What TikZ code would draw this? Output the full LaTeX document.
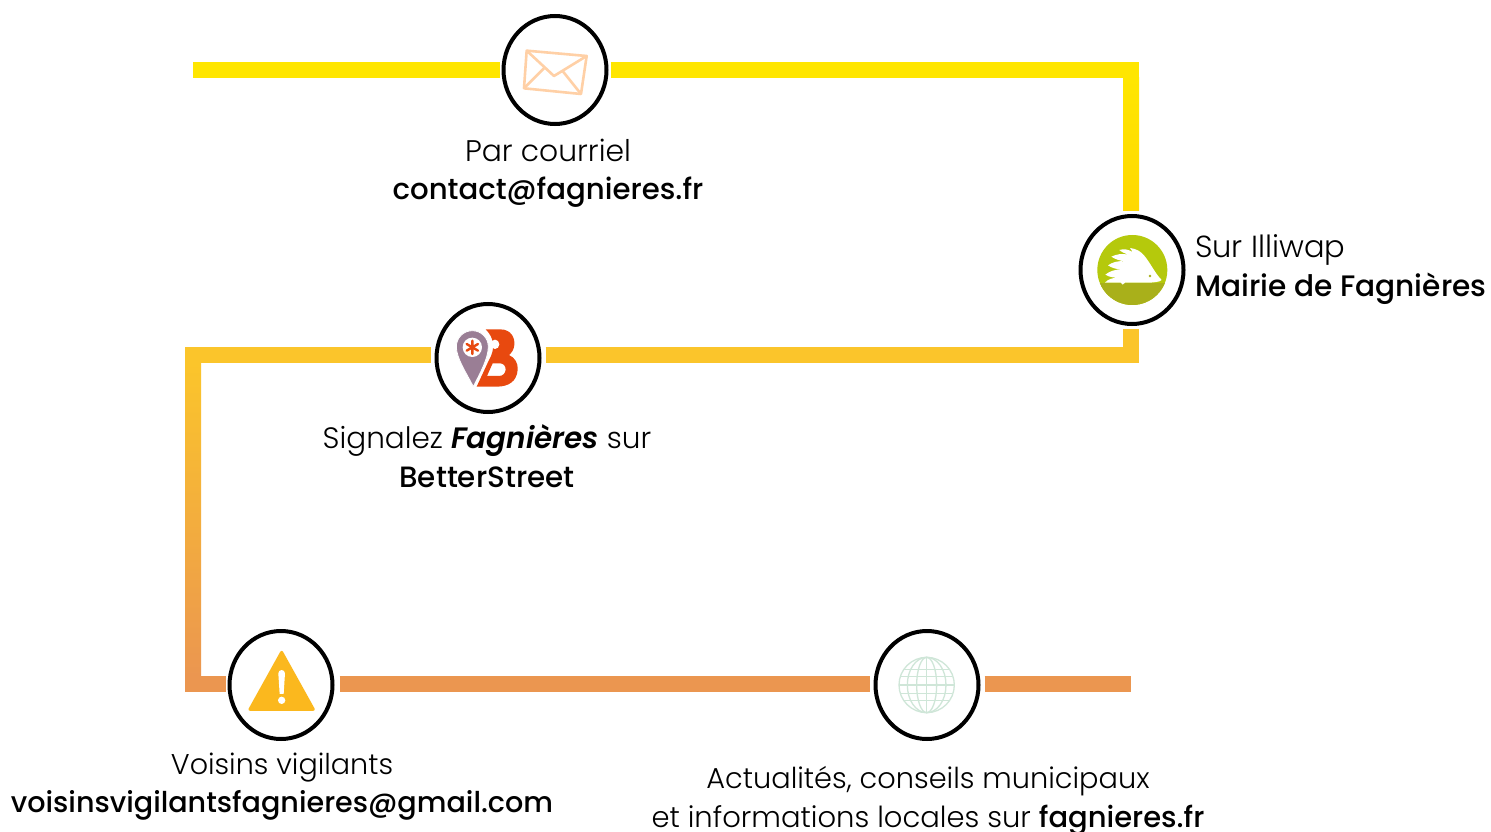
\documentclass[tikz,border=0pt]{standalone}
\usepackage{fontspec}
\setmainfont{Poppins Light}
\newfontfamily\regf{Poppins Medium}
\newfontfamily\boldf{Poppins SemiBold}
\usetikzlibrary{shapes.geometric}
\definecolor{yelA}{HTML}{FFE600}
\definecolor{yelB}{HTML}{FFD900}
\definecolor{ambA}{HTML}{FBC52B}
\definecolor{oraA}{HTML}{EB9650}
\definecolor{envC}{HTML}{FFD0A6}
\definecolor{hogA}{HTML}{B5C90C}
\definecolor{hogB}{HTML}{A9B01A}
\definecolor{pinC}{HTML}{9A7E95}
\definecolor{bRed}{HTML}{E8490F}
\definecolor{warnC}{HTML}{FBB81E}
\definecolor{globeC}{HTML}{CFE6D8}
\tikzset{
  ring/.style={draw=black,line width=4pt,fill=white,ellipse,minimum width=103pt,minimum height=108pt,inner sep=0pt,outer sep=4pt},
  lbl/.style={inner sep=0pt,font=\fontsize{#1}{35}\selectfont,text=black},
  road/.style={line width=16pt,line join=miter},
  zoomed/.style 2 args={shift={(#1,#2)},x=0.3333pt,y=-0.3333pt}
}
\begin{document}
\begin{tikzpicture}[x=1pt,y=-1pt]
\useasboundingbox (0,0) rectangle (1491,832);
\fill[white] (0,0) rectangle (1491,832);
% coordinates
\coordinate (s1) at (193,70);
\coordinate (c1) at (1139,70);
\coordinate (c2) at (1139,355);
\coordinate (c3) at (185,355);
\coordinate (c4) at (185,684);
\coordinate (e1) at (1131,684);
% roads with a gradient
\shade[bottom color=yelB,top color=yelA] (1123,78) rectangle (1139,210);
\fill[ambA] (1123,329) rectangle (1139,347);
\shade[top color=ambA,bottom color=oraA] (185,363) rectangle (201,676);
% nodes
\node[ring] (mail) at (555,70) {};
\node[ring] (hog) at (1132,270) {};
\node[ring] (better) at (488,358) {};
\node[ring] (warn) at (281,685) {};
\node[ring] (globe) at (927,685) {};
% connectors
\draw[road,yelA] (s1) -- (mail);
\draw[road,yelA] (mail) -- (c1);
\draw[road,ambA,shorten <=2pt] (c2 -| better.east) -- (c2);
\draw[road,ambA,shorten <=2pt] (c3 -| better.west) -- (c3);
\draw[road,oraA] (c4) -- (warn.west |- c4);
\draw[road,oraA,shorten <=3pt,shorten >=2pt] (warn.east |- c4) -- (globe.west |- c4);
\draw[road,oraA,shorten <=2pt] (globe.east |- c4) -- (e1);
% envelope
\begin{scope}[zoomed={480}{0},draw=envC,line width=2.6pt,line join=round]
\draw (140,152) -- (320,168) -- (303,282) -- (132,265) -- cycle;
\draw (140,152) -- (222,228) -- (320,168);
\draw (132,265) -- (192,205);
\draw (303,282) -- (247,212);
\end{scope}
% hedgehog
\begin{scope}[zoomed={1060}{200}]
\fill[hogA] (217,210) circle (105);
\begin{scope}
\clip (217,210) circle (105);
\fill[hogB] (100,248) rectangle (330,330);
\end{scope}
\fill[white] (135,248) .. controls (142,238) and (160,232) .. (182,232)
 .. controls (165,234) and (148,232) .. (136,224)
 .. controls (148,214) and (165,208) .. (186,208)
 .. controls (170,208) and (155,204) .. (144,196)
 .. controls (158,186) and (175,182) .. (194,184)
 .. controls (180,182) and (165,178) .. (154,170)
 .. controls (170,162) and (188,160) .. (204,164)
 .. controls (195,160) and (184,156) .. (178,150)
 .. controls (190,146) and (206,148) .. (218,156)
 .. controls (216,152) and (212,148) .. (210,144)
 .. controls (228,146) and (242,154) .. (252,166)
 .. controls (272,190) and (285,220) .. (305,240)
 .. controls (300,246) and (280,248) .. (260,248)
 -- (195,248) -- (188,254) -- (182,248) -- cycle;
\fill[hogB] (270,228) circle (4);
\end{scope}
% BetterStreet logo
\begin{scope}[zoomed={415}{295}]
\fill[bRed,even odd rule] (212,103) -- (255,103)
 .. controls (290,103) and (300,130) .. (298,150)
 .. controls (297,165) and (288,175) .. (282,180)
 .. controls (300,188) and (310,205) .. (308,225)
 .. controls (305,260) and (280,275) .. (245,275)
 -- (185,275) -- (222,195)
 .. controls (240,165) and (240,130) .. (212,103) -- cycle
 (233,205) -- (255,205) .. controls (278,205) and (278,243) .. (252,243) -- (216,243) -- cycle;
\fill[white] (240,148) ellipse (13 and 14);
\fill[pinC,draw=white,line width=0.8pt] (124,155) arc (180:360:48) .. controls (220,190) and (195,235) .. (175,275) .. controls (155,235) and (124,190) .. (124,155) -- cycle;
\fill[white] (172,157) circle (29);
\draw[bRed,line width=2.4pt,line cap=round] (172,137) -- (172,177) (155,147) -- (189,167) (155,167) -- (189,147);
\end{scope}
% warning
\begin{scope}[zoomed={170}{620}]
\fill[warnC,draw=warnC,line width=3pt,line join=round] (335,97) -- (430,268) -- (240,268) -- cycle;
\fill[white] (325,160) .. controls (325,147) and (345,147) .. (345,160) -- (341,222) -- (329,222) -- cycle;
\fill[white] (335,241) circle (11);
\end{scope}
% globe
\begin{scope}[zoomed={855}{620},draw=globeC,line width=1.3pt]
\draw (215,195) circle (83);
\draw (215,112) -- (215,278) (132,195) -- (298,195);
\draw (215,195) ellipse (30 and 83);
\draw (215,195) ellipse (58 and 83);
\draw (147,148) -- (283,148) (139,170) -- (291,170) (139,220) -- (291,220) (147,242) -- (283,242);
\end{scope}
% labels
\node[lbl=29.8,anchor=base] (t1) at (548,161) {Par courriel};
\node[lbl=29.2,anchor=base] (t2) at (548,199) {\regf contact@fagnieres.fr};
\node[lbl=30.5,anchor=base west] (t3) at (1195,257) {Sur Illiwap};
\node[lbl=29.6,anchor=base west] (t4) at (1195,296) {\regf Mairie de Fagnières};
\node[lbl=29.5,anchor=base] (t5) at (487,448) {Signalez {\boldf\itshape Fagnières} sur};
\node[lbl=29.4,anchor=base] (t6) at (487,487) {\regf BetterStreet};
\node[lbl=28.6,anchor=base] (t7) at (282,774) {Voisins vigilants};
\node[lbl=28.6,anchor=base] (t8) at (282,812) {\regf voisinsvigilantsfagnieres@gmail.com};
\node[lbl=28.8,anchor=base] (t9) at (928,788) {Actualités, conseils municipaux};
\node[lbl=29,anchor=base] (t10) at (928,827) {et informations locales sur {\regf fagnieres.fr}};
\end{tikzpicture}
\end{document}
